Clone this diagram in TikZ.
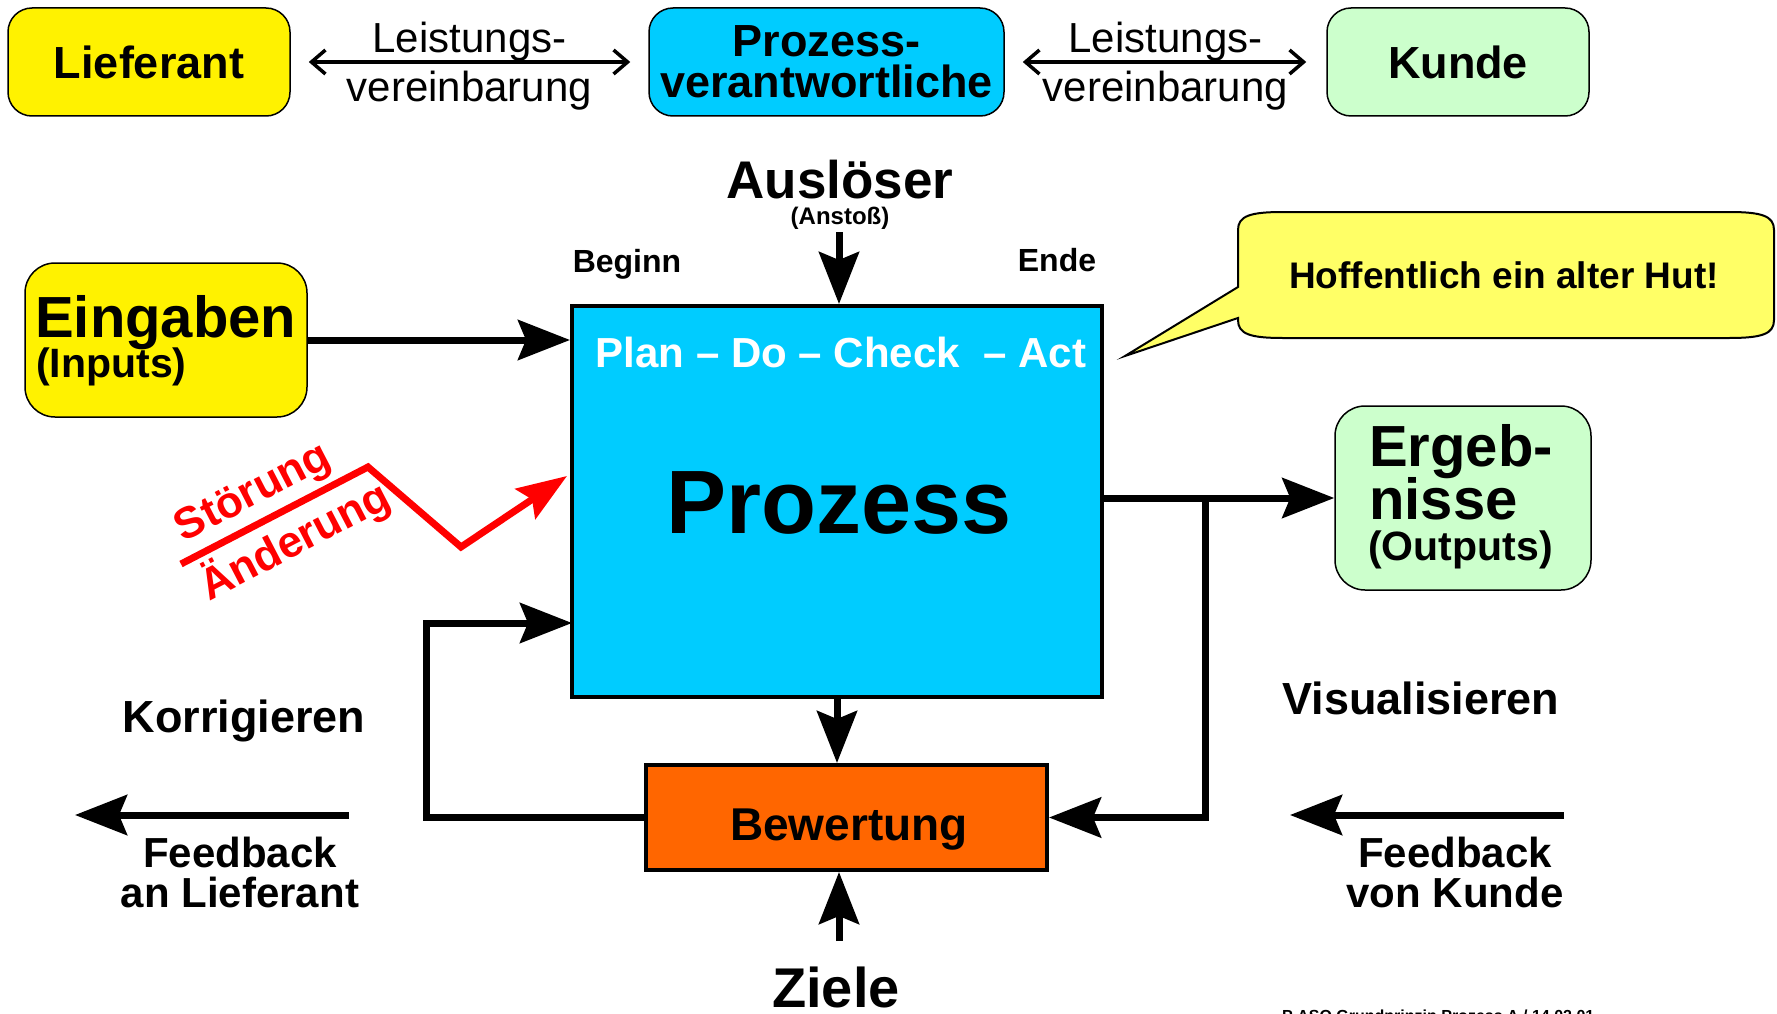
\documentclass[tikz,border=0pt]{standalone}
\usepackage{fontspec}
\setmainfont{Liberation Sans}
\usepackage{xcolor}
\usetikzlibrary{arrows.meta,
	positioning,
	calc}
\definecolor{procblue}{HTML}{00CCFF}
\definecolor{outgreen}{HTML}{CCFFCC}
\definecolor{bworange}{HTML}{FF6600}
\definecolor{hutyellow}{HTML}{FFFF66}
\newcommand{\fsz}[1]{\fontsize{#1}{#1}\selectfont}
\tikzstyle{bx}=[draw, line width=1.5pt, rounded corners=24pt, inner sep=0]
\tikzstyle{ylw}=[bx, fill=yellow]
\tikzstyle{cyn}=[bx, fill=procblue]
\tikzstyle{grn}=[bx, fill=outgreen]
\tikzstyle{tx}=[inner sep=0, font=\bfseries]
\tikzstyle{lv}=[inner sep=0, yshift=-4pt, align=center, font=\fontsize{42}{49}\selectfont]
\tikzstyle{thk}=[line width=7pt, -{Stealth[length=52pt, width=40pt, inset=8pt]}]
\tikzstyle{dbl}=[line width=3.5pt, {Straight Barb[length=14pt, width=24pt]}-{Straight Barb[length=14pt, width=24pt]}]
\tikzstyle{stoer}=[draw=red, line width=7pt, line join=miter, -{Stealth[length=50pt, width=36pt, inset=8pt]}]
\tikzstyle{stx}=[inner sep=5pt, text=red, sloped, font=\bfseries\fsz{44}]

\begin{document}
\begin{tikzpicture}[x=1pt, y=-1pt]
        \useasboundingbox (0,0) rectangle (1777,1014);
        \clip (0,0) rectangle (1777,1014);
        % top row
        \node[ylw, minimum width=282pt, minimum height=108pt, font=\bfseries\fsz{45}] (lief) at (149,62) {Lieferant};
        \node[cyn, minimum width=355pt, minimum height=108pt, align=center, font=\bfseries\fontsize{45}{41}\selectfont] (pv) at (826.5,62) {Prozess-\\verantwortliche};
        \node[grn, minimum width=262pt, minimum height=108pt, font=\bfseries\fsz{45}] (kunde) at (1458,62) {Kunde};
        \draw[dbl, shorten <=18pt, shorten >=18pt] (lief) -- node[lv] (lv1) {Leistungs-\\vereinbarung} (pv);
        \draw[dbl, shorten <=18pt, shorten >=20pt] (pv) -- node[lv] (lv2) {Leistungs-\\vereinbarung} (kunde);
        % process
        \node[draw, line width=4pt, fill=procblue, minimum width=530pt, minimum height=391pt, inner sep=0] (proz) at (837,501.5) {};
        \node[tx, text=white, font=\bfseries\fsz{42}] (pdca) at (841,352) {Plan – Do – Check~~– Act};
        \node[tx, font=\bfseries\fsz{90}] (prz) at (839,503) {Prozess};
        \node[tx, font=\bfseries\fsz{53}] (ausl) at (840,180) {Auslöser};
        \node[tx, font=\bfseries\fsz{24}] (anst) at (840,218) {(Anstoß)};
        \node[tx, font=\bfseries\fsz{32}] (beg) at (627,264) {Beginn};
        \node[tx, font=\bfseries\fsz{32}] (ende) at (1057,260) {Ende};
        \coordinate (atop) at (839,232);
        \draw[thk] (atop) -- (atop |- proz.north);
        % inputs
        \node[ylw, rounded corners=30pt, minimum width=282pt, minimum height=154pt] (eing) at (166,340) {};
        \node[tx, anchor=base west, font=\bfseries\fsz{58}] (eingt) at (35,337) {Eingaben};
        \node[tx, anchor=base west, font=\bfseries\fsz{41}] (inpt) at (36,377) {(Inputs)};
        \draw[thk] (eing.east) -- (eing.east -| proz.west);
        % outputs
        \node[grn, rounded corners=30pt, minimum width=256pt, minimum height=184pt] (ergb) at (1463,498) {};
        \node[tx, anchor=base west, font=\bfseries\fsz{58}] (erg1) at (1369,466) {Ergeb-};
        \node[tx, anchor=base west, font=\bfseries\fsz{58}] (erg2) at (1369,519) {nisse};
        \node[tx, anchor=base west, font=\bfseries\fsz{41}] (outp) at (1368,560) {(Outputs)};
        \draw[thk] (proz.east |- ergb.west) -- (ergb.west);
        % Stoerung
        \coordinate (s0) at (181,564);
        \coordinate (s1) at (368,467);
        \coordinate (s2) at (461,547);
        \coordinate (s3) at (567,476);
        \draw[stoer] (s0) -- node[stx, above, pos=0.46] (stoe) {Störung} node[stx, below, pos=0.53] (aend) {Änderung} (s1) -- (s2) -- (s3);
        % evaluation
        \node[draw, line width=4pt, fill=bworange, minimum width=401pt, minimum height=105pt, inner sep=0] (bew) at (846.5,817.5) {};
        \node[tx, anchor=base, font=\bfseries\fsz{46}] (bewt) at (849,840) {Bewertung};
        \draw[thk] (proz.south) -- (proz.south |- bew.north);
        \coordinate (fbin) at (572,623);
        \draw[thk] (bew.west) -| (426,623) -- (fbin);
        \coordinate (br) at (1205,498);
        \draw[thk] (br) |- (bew.east);
        \node[tx, anchor=base, font=\bfseries\fsz{56}] (ziele) at (836,1007) {Ziele};
        \coordinate (zl) at (839,941);
        \draw[thk] (zl) -- (zl |- bew.south);
        % feedback
        \node[tx, anchor=base, font=\bfseries\fsz{45}] (korr) at (244,732) {Korrigieren};
        \node[tx, anchor=base, font=\bfseries\fsz{45}] (visu) at (1421,714) {Visualisieren};
        \coordinate (fla) at (349,815);
        \coordinate (flb) at (75,815);
        \draw[thk] (fla) -- (flb);
        \coordinate (fka) at (1564,815);
        \coordinate (fkb) at (1290,815);
        \draw[thk] (fka) -- (fkb);
        \node[tx, anchor=north, align=center, font=\bfseries\fontsize{42}{40}\selectfont] (fbl) at (240,837) {Feedback\\an Lieferant};
        \node[tx, anchor=north, align=center, font=\bfseries\fontsize{42}{40}\selectfont] (fbk) at (1455,837) {Feedback\\von Kunde};
        % callout
        \draw[fill=hutyellow, line width=2pt] (1238,318) -- (1238,320) .. controls (1238,334) and (1250,338) .. (1283,338)
            -- (1729,338) .. controls (1762,338) and (1774,334) .. (1774,320)
            -- (1774,230) .. controls (1774,216) and (1762,212) .. (1729,212)
            -- (1283,212) .. controls (1250,212) and (1238,216) .. (1238,230)
            -- (1238,287) -- (1125,356) -- cycle;
        \node[tx, font=\bfseries\fsz{37}] (hut) at (1504,275) {Hoffentlich ein alter Hut!};
        \node[tx, anchor=base west, font=\bfseries\fsz{16}] (foot) at (1282,1021) {P ASQ Grundprinzip Prozess A / 14.02.01};
    \end{tikzpicture}
\end{document}
